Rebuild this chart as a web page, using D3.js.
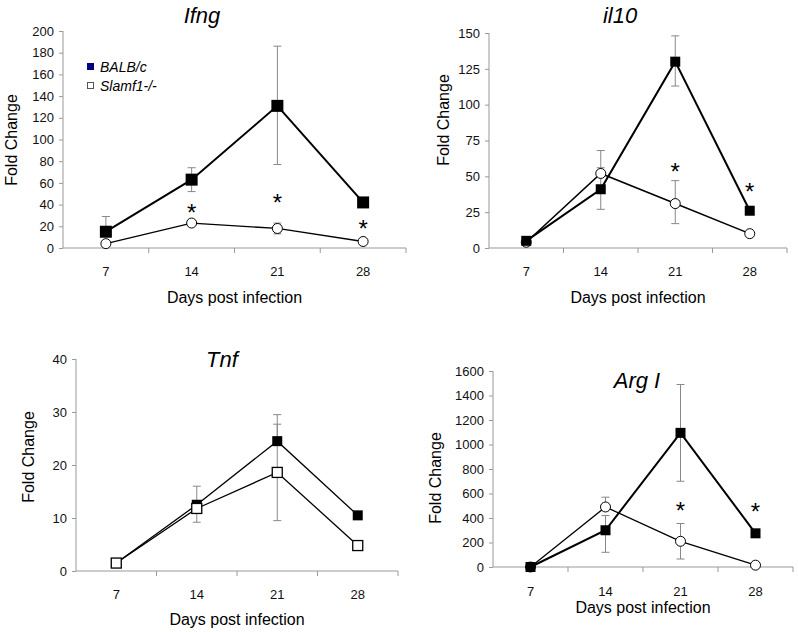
<!DOCTYPE html>
<html>
<head>
<meta charset="utf-8">
<script src="https://cdn.jsdelivr.net/npm/d3@7"></script>
<style>
  body { margin: 0; background: #fff; }
  svg { display: block; font-family: "Liberation Sans", Arial, sans-serif; }
</style>
</head>
<body>
<svg width="798" height="632"></svg>
<script>
// days on the x axis, shared by all panels
var days = ["7", "14", "21", "28"];

// Ifng
var ifngBalb = [15, 63, 131, 42];
var ifngBalbHi = [29, 74, 186, null];
var ifngBalbLo = [null, 52, 77, null];
var ifngSlam = [4, 23, 18, 6];
var ifngSlamHi = [null, null, 23, null];
var ifngSlamLo = [null, null, 13, null];
var ifngStars = [null, 40, 50, 26];
var ifngTicks = [0, 20, 40, 60, 80, 100, 120, 140, 160, 180, 200];

// il10
var il10Balb = [5, 41, 130, 26];
var il10BalbHi = [null, 56, 148, null];
var il10BalbLo = [null, 27, 113, null];
var il10Slam = [4, 52, 31, 10];
var il10SlamHi = [null, 68, 47, null];
var il10SlamLo = [null, null, 17, null];
var il10Stars = [null, null, 59, 45];
var il10Ticks = [0, 25, 50, 75, 100, 125, 150];

// Tnf
var tnfBalb = [1.5, 12.5, 24.5, 10.5];
var tnfBalbHi = [null, 16, 29.5, null];
var tnfBalbLo = [null, 9.2, null, null];
var tnfSlam = [1.5, 11.8, 18.6, 4.8];
var tnfSlamHi = [null, null, 27.7, null];
var tnfSlamLo = [null, null, 9.5, null];
var tnfStars = [null, null, null, null];
var tnfTicks = [0, 10, 20, 30, 40];

// Arg I
var argBalb = [0, 300, 1095, 275];
var argBalbHi = [null, 420, 1490, null];
var argBalbLo = [null, 120, 700, null];
var argSlam = [0, 490, 210, 15];
var argSlamHi = [null, 570, 355, null];
var argSlamLo = [null, null, 65, null];
var argStars = [null, null, 530, 520];
var argTicks = [0, 200, 400, 600, 800, 1000, 1200, 1400, 1600];

var svg = d3.select("svg");

function drawPanel(p) {
  var x = d3.scaleBand().domain(days).range([p.left, p.right]);
  var y = d3.scaleLinear().domain([0, p.ticks[p.ticks.length - 1]]).range([p.bottom, p.top]);
  var g = svg.append("g");
  var cx = function(i) { return x(days[i]) + x.bandwidth() / 2; };

  // y axis
  var ya = g.append("g").attr("transform", "translate(" + p.left + ",0)")
    .call(d3.axisLeft(y).tickValues(p.ticks).tickFormat(d3.format("d")).tickSize(4).tickPadding(5));
  ya.select(".domain").attr("stroke", "#999").attr("d", "M0," + y(p.ticks[p.ticks.length - 1]) + "V" + p.bottom);
  ya.selectAll(".tick line").attr("stroke", "#999");
  ya.selectAll("text").attr("font-size", 13).attr("fill", "#111");

  // x axis: ticks at band edges, labels at centres
  var xa = g.append("g").attr("transform", "translate(0," + p.bottom + ")");
  xa.append("path").attr("stroke", "#999").attr("fill", "none")
    .attr("d", "M" + p.left + ",0H" + p.right);
  xa.selectAll("line").data(days).enter().append("line")
    .attr("x1", function(d) { return x(d) + x.bandwidth(); })
    .attr("x2", function(d) { return x(d) + x.bandwidth(); })
    .attr("y1", 0).attr("y2", 5).attr("stroke", "#999");
  xa.selectAll("text").data(days).enter().append("text")
    .attr("x", function(d) { return x(d) + x.bandwidth() / 2; })
    .attr("y", p.tickY - p.bottom).attr("dy", "0.35em")
    .attr("text-anchor", "middle").attr("font-size", 13).attr("fill", "#111")
    .text(function(d) { return d; });

  // labels
  g.append("text").attr("x", p.titleX).attr("y", p.titleY).attr("dy", "0.35em")
    .attr("text-anchor", "middle").attr("font-size", 22).attr("font-style", "italic")
    .text(p.title);
  g.append("text").attr("transform", "translate(" + p.yLabX + "," + p.yLabY + ") rotate(-90)")
    .attr("dy", "0.35em").attr("text-anchor", "middle").attr("font-size", 16)
    .text("Fold Change");
  g.append("text").attr("x", (p.left + p.right) / 2).attr("y", p.xLabY).attr("dy", "0.35em")
    .attr("text-anchor", "middle").attr("font-size", 16)
    .text("Days post infection");

  // error bars
  function errBars(vals, hi, lo) {
    vals.forEach(function(v, i) {
      [hi[i], lo[i]].forEach(function(e) {
        if (e == null) return;
        g.append("line").attr("x1", cx(i)).attr("x2", cx(i))
          .attr("y1", y(v)).attr("y2", y(e)).attr("stroke", "#888").attr("stroke-width", 1);
        g.append("line").attr("x1", cx(i) - 4).attr("x2", cx(i) + 4)
          .attr("y1", y(e)).attr("y2", y(e)).attr("stroke", "#888").attr("stroke-width", 1);
      });
    });
  }
  errBars(p.balb, p.balbHi, p.balbLo);
  errBars(p.slam, p.slamHi, p.slamLo);

  var line = d3.line().x(function(d, i) { return cx(i); }).y(function(d) { return y(d); });
  g.append("path").datum(p.slam).attr("d", line).attr("fill", "none")
    .attr("stroke", "#000").attr("stroke-width", p.slamW);
  g.append("path").datum(p.balb).attr("d", line).attr("fill", "none")
    .attr("stroke", "#000").attr("stroke-width", p.balbW);

  // Slamf1 markers
  if (p.slamShape === "circle") {
    g.selectAll(".slam").data(p.slam).enter().append("circle")
      .attr("cx", function(d, i) { return cx(i); }).attr("cy", function(d) { return y(d); })
      .attr("r", p.circR).attr("fill", "#fff").attr("stroke", "#000").attr("stroke-width", 1);
  }
  // BALB/c markers
  var s = p.sq;
  g.selectAll(".balb").data(p.balb).enter().append("rect")
    .attr("x", function(d, i) { return cx(i) - s / 2; }).attr("y", function(d) { return y(d) - s / 2; })
    .attr("width", s).attr("height", s).attr("fill", "#000");
  if (p.slamShape === "square") {
    g.selectAll(".slam").data(p.slam).enter().append("rect")
      .attr("x", function(d, i) { return cx(i) - s / 2; }).attr("y", function(d) { return y(d) - s / 2; })
      .attr("width", s).attr("height", s).attr("fill", "#fff").attr("stroke", "#000").attr("stroke-width", 1.3);
  }

  // significance stars
  p.stars.forEach(function(v, i) {
    if (v == null) return;
    g.append("text").attr("x", cx(i)).attr("y", y(v)).attr("dy", "0.7em")
      .attr("text-anchor", "middle").attr("font-size", 24).text("*");
  });
}

drawPanel({ title: "Ifng", left: 63, right: 406, top: 31, bottom: 248, ticks: ifngTicks,
  balb: ifngBalb, balbHi: ifngBalbHi, balbLo: ifngBalbLo,
  slam: ifngSlam, slamHi: ifngSlamHi, slamLo: ifngSlamLo, stars: ifngStars,
  slamShape: "circle", sq: 12, circR: 5, balbW: 2, slamW: 1.3,
  titleX: 202, titleY: 15, yLabX: 11, yLabY: 140, tickY: 271, xLabY: 297 });

drawPanel({ title: "il10", left: 489, right: 787, top: 33, bottom: 248, ticks: il10Ticks,
  balb: il10Balb, balbHi: il10BalbHi, balbLo: il10BalbLo,
  slam: il10Slam, slamHi: il10SlamHi, slamLo: il10SlamLo, stars: il10Stars,
  slamShape: "circle", sq: 10, circR: 5, balbW: 2, slamW: 1.5,
  titleX: 620, titleY: 15, yLabX: 443, yLabY: 120, tickY: 271, xLabY: 297 });

drawPanel({ title: "Tnf", left: 76, right: 398, top: 359, bottom: 571, ticks: tnfTicks,
  balb: tnfBalb, balbHi: tnfBalbHi, balbLo: tnfBalbLo,
  slam: tnfSlam, slamHi: tnfSlamHi, slamLo: tnfSlamLo, stars: tnfStars,
  slamShape: "square", sq: 10, circR: 5, balbW: 1.3, slamW: 1.3,
  titleX: 222, titleY: 359, yLabX: 28, yLabY: 457, tickY: 594, xLabY: 619 });

drawPanel({ title: "Arg I", left: 493, right: 793, top: 371, bottom: 567, ticks: argTicks,
  balb: argBalb, balbHi: argBalbHi, balbLo: argBalbLo,
  slam: argSlam, slamHi: argSlamHi, slamLo: argSlamLo, stars: argStars,
  slamShape: "circle", sq: 10, circR: 5, balbW: 2, slamW: 1.3,
  titleX: 637, titleY: 380, yLabX: 435, yLabY: 478, tickY: 591, xLabY: 607 });

// legend (Ifng panel only)
var legend = svg.append("g");
legend.append("rect").attr("x", 87).attr("y", 63).attr("width", 7).attr("height", 7).attr("fill", "#000080");
legend.append("rect").attr("x", 87.5).attr("y", 82.5).attr("width", 6).attr("height", 6)
  .attr("fill", "#fff").attr("stroke", "#555");
legend.append("text").attr("x", 100).attr("y", 67).attr("dy", "0.35em")
  .attr("font-size", 14).attr("font-style", "italic").text("BALB/c");
legend.append("text").attr("x", 100).attr("y", 86).attr("dy", "0.35em")
  .attr("font-size", 14).attr("font-style", "italic").text("Slamf1-/-");
</script>
</body>
</html>
